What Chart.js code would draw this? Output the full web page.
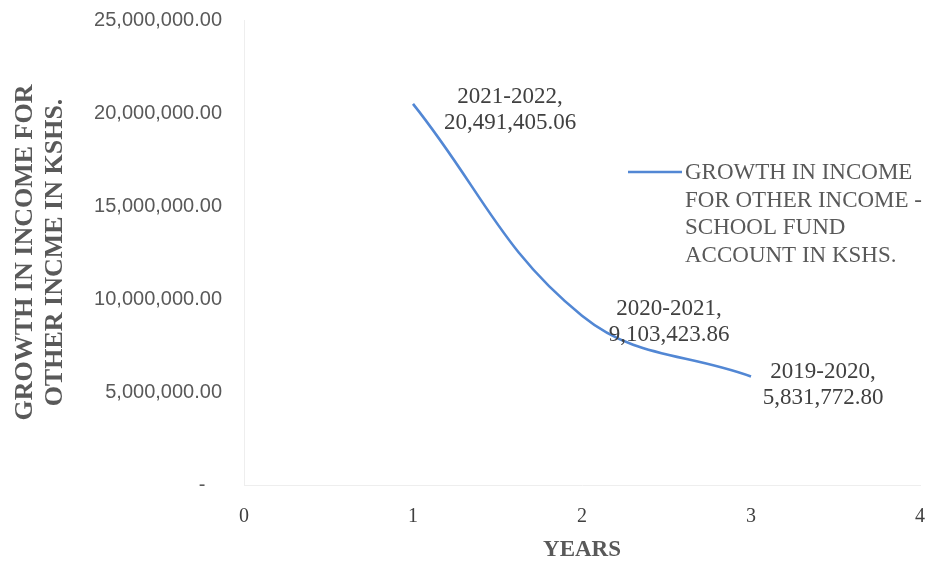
<!DOCTYPE html>
<html>
<head>
<meta charset="utf-8">
<script src="https://cdn.jsdelivr.net/npm/chart.js@4.4.1/dist/chart.umd.min.js"></script>
<style>
	html, body { margin: 0; padding: 0; background: #fff; }
	#wrap { width: 937px; height: 565px; position: relative; }
</style>
</head>
<body>
<div id="wrap"><canvas id="myChart"></canvas></div>
<script>
// income per year (x = year index)
const years      = [1, 2, 3];
const periods    = ['2021-2022', '2020-2021', '2019-2020'];
const income     = [20491405.06, 9103423.86, 5831772.80];
const yTicks     = [0, 5000000, 10000000, 15000000, 20000000, 25000000];
const xTicks     = [0, 1, 2, 3, 4];
const legendText = ['GROWTH IN INCOME', 'FOR OTHER INCOME -', 'SCHOOL FUND', 'ACCOUNT IN KSHS.'];

function money(v) {
	return v.toLocaleString('en-US', { minimumFractionDigits: 2, maximumFractionDigits: 2 });
}

// "period, value" labels beside each point
const valueLabels = {
	id: 'valueLabels',
	afterDatasetsDraw(chart, args, opts) {
		const ctx = chart.ctx;
		const meta = chart.getDatasetMeta(0);
		ctx.save();
		ctx.font = '23px "Liberation Serif", "Times New Roman", serif';
		ctx.fillStyle = '#404040';
		ctx.textAlign = 'center';
		ctx.textBaseline = 'middle';
		meta.data.forEach(function(pt, i) {
			const cx = pt.x + opts.dx[i];
			const cy = pt.y + opts.dy[i];
			ctx.fillText(periods[i] + ',', cx, cy - 13);
			ctx.fillText(money(income[i]), cx, cy + 13);
		});
		ctx.restore();
	}
};

// legend sits inside the plot, text wrapped over four lines
const sideLegend = {
	id: 'sideLegend',
	afterDraw(chart) {
		const ctx = chart.ctx;
		const a = chart.chartArea;
		const x = a.left + 384;
		const y = a.top + 152;
		ctx.save();
		ctx.strokeStyle = chart.data.datasets[0].borderColor;
		ctx.lineWidth = 2.5;
		ctx.beginPath();
		ctx.moveTo(x, y);
		ctx.lineTo(x + 54, y);
		ctx.stroke();
		ctx.font = '23px "Liberation Serif", "Times New Roman", serif';
		ctx.fillStyle = '#595959';
		ctx.textAlign = 'left';
		ctx.textBaseline = 'middle';
		legendText.forEach(function(line, i) {
			ctx.fillText(line, x + 57, y + 1 + i * 27.7);
		});
		ctx.restore();
	}
};

window.addEventListener('load', function() {
	new Chart('myChart', {
		type: 'line',
		data: {
			datasets: [{
				label: legendText.join(' '),
				data: years.map(function(x, i) { return { x: x, y: income[i] }; }),
				borderColor: '#5287d4',
				borderWidth: 2.6,
				pointRadius: 0,
				tension: 0.4,
				fill: false
			}]
		},
		options: {
			responsive: true,
			maintainAspectRatio: false,
			animation: false,
			layout: { padding: { left: 0, right: 17, top: 20, bottom: 0 } },
			plugins: {
				legend: { display: false },
				tooltip: { enabled: false },
				valueLabels: { dx: [97, 87, 72], dy: [6, 6, 8] }
			},
			scales: {
				x: {
					type: 'linear',
					min: 0,
					max: 4,
					afterBuildTicks: function(s) { s.ticks = xTicks.map(function(v) { return { value: v }; }); },
					afterFit: function(s) {
						s.height = 80;
						s.paddingLeft = 0;
						s.paddingRight = 0;
					},
					grid: { display: false, drawTicks: false },
					border: { color: '#eeeeee', width: 1 },
					ticks: {
						padding: 20,
						color: '#404040',
						font: { family: '"Liberation Serif", "Times New Roman", serif', size: 20 }
					},
					title: {
						display: true,
						text: 'YEARS',
						color: '#595959',
						padding: { top: 0, bottom: 1 },
						font: { family: '"Liberation Serif", "Times New Roman", serif', size: 23, weight: 'bold' }
					}
				},
				y: {
					min: 0,
					max: 25000000,
					afterBuildTicks: function(s) { s.ticks = yTicks.map(function(v) { return { value: v }; }); },
					afterFit: function(s) {
						s.width = 244;
						s.paddingTop = 0;
						s.paddingBottom = 0;
					},
					grid: { display: false, drawTicks: false },
					border: { color: '#eeeeee', width: 1 },
					ticks: {
						padding: 22,
						color: '#595959',
						font: { family: '"Liberation Sans", Arial, sans-serif', size: 20 },
						callback: function(v) { return v === 0 ? '-   ' : money(v); }
					},
					title: {
						display: true,
						text: ['GROWTH IN INCOME FOR', 'OTHER INCME IN KSHS.'],
						color: '#595959',
						padding: { top: 10, bottom: 0 },
						font: { family: '"Liberation Serif", "Times New Roman", serif', size: 26, weight: 'bold', lineHeight: 1.15 }
					}
				}
			}
		},
		plugins: [valueLabels, sideLegend]
	});
});
</script>
</body>
</html>
